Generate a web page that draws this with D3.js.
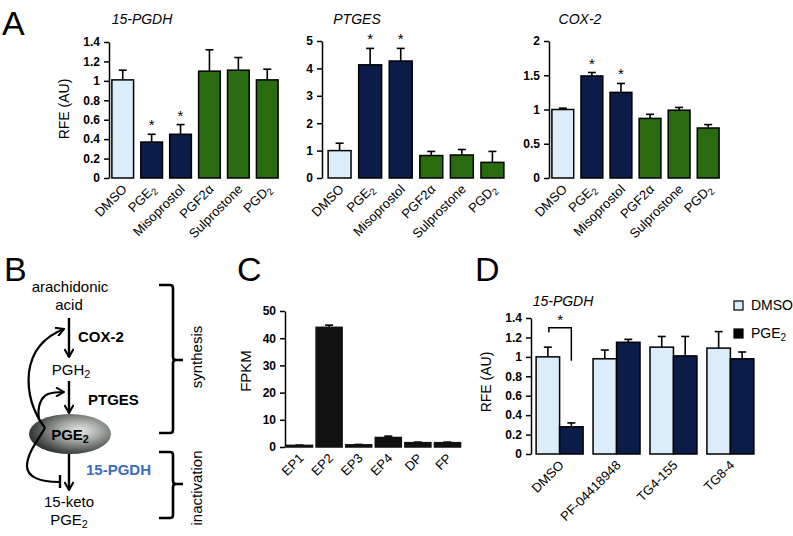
<!DOCTYPE html>
<html><head><meta charset="utf-8">
<script src="https://cdn.jsdelivr.net/npm/d3@7"></script>
<style>
body{margin:0;background:#fff}
text{font-family:"Liberation Sans",Arial,Helvetica,sans-serif;fill:#000}
</style>
</head><body>
<svg id="fig" width="793" height="536"></svg>
<script>
// ---------- DATA ----------
const treatments = ["DMSO","PGE2","Misoprostol","PGF2α","Sulprostone","PGD2"];
const treatmentClass = ["ctrl","ep","ep","other","other","other"];
const sigA = [false,true,true,false,false,false];

const pgdhVals  = [1.01,0.37,0.45,1.10,1.11,1.01];
const pgdhErr   = [0.10,0.08,0.10,0.22,0.13,0.11];
const pgdhTicks = [0,0.2,0.4,0.6,0.8,1,1.2,1.4];

const ptgesVals  = [1.00,4.13,4.27,0.82,0.84,0.57];
const ptgesErr   = [0.27,0.60,0.46,0.15,0.20,0.40];
const ptgesTicks = [0,1,2,3,4,5];

const cox2Vals  = [1.00,1.49,1.25,0.87,0.99,0.73];
const cox2Err   = [0.02,0.05,0.13,0.06,0.04,0.05];
const cox2Ticks = [0,0.5,1,1.5,2];

const receptors  = ["EP1","EP2","EP3","EP4","DP","FP"];
const fpkmVals   = [0.6,44.0,0.8,3.5,1.6,1.6];
const fpkmErr    = [0.1,0.8,0.15,0.5,0.2,0.2];
const fpkmTicks  = [0,10,20,30,40,50];

const inhibitors  = ["DMSO","PF-04418948","TG4-155","TG8-4"];
const conditions  = ["DMSO","PGE2"];
const dVehicle    = [1.00,0.98,1.10,1.09];
const dVehicleErr = [0.10,0.09,0.11,0.17];
const dPGE2       = [0.28,1.15,1.01,0.98];
const dPGE2Err    = [0.04,0.03,0.20,0.07];
const dTicks      = [0,0.2,0.4,0.6,0.8,1,1.2,1.4];

// ---------- STYLE ----------
const colors = {ctrl:"#dcedfa", ep:"#0c1c48", other:"#2b6b10", black:"#111"};
const svg = d3.select("#fig");

function labelText(sel, s){
  if(/^PG[A-Z]2$/.test(s)){
    sel.text(s.slice(0,-1));
    sel.append("tspan").attr("dy","0.3em").attr("font-size","0.72em").text("2");
  } else sel.text(s);
}

function rotLabel(g, x, y, s, size){
  const t = g.append("text").attr("text-anchor","end").attr("font-size",size)
    .attr("transform",`translate(${x},${y}) rotate(-45)`);
  labelText(t, s);
  return t;
}

function yAxis(g, y, ticks){
  g.call(d3.axisLeft(y).tickValues(ticks).tickSize(5).tickSizeOuter(0).tickPadding(4).tickFormat(d=>String(d)));
  g.select(".domain").attr("stroke","#000").attr("stroke-width",1.5);
  g.selectAll(".tick line").attr("stroke","#000").attr("stroke-width",1.5);
  g.selectAll(".tick text").attr("font-size",12).attr("font-weight","bold")
    .attr("font-family","'Liberation Sans',Arial,sans-serif").attr("fill","#000");
}

function errBar(g, cx, yBar, yTop, cap){
  g.append("line").attr("x1",cx).attr("x2",cx).attr("y1",yBar).attr("y2",yTop)
    .attr("stroke","#000").attr("stroke-width",1.6);
  g.append("line").attr("x1",cx-cap).attr("x2",cx+cap).attr("y1",yTop).attr("y2",yTop)
    .attr("stroke","#000").attr("stroke-width",1.6);
}

function barPanel(o){
  const g = svg.append("g");
  const x = d3.scaleBand().domain(o.cats).range(o.xRange).paddingInner(o.pi).paddingOuter(o.po);
  const y = d3.scaleLinear().domain([0, d3.max(o.ticks)]).range(o.yRange);
  const ax = g.append("g").attr("transform",`translate(${o.xRange[0]},0)`);
  yAxis(ax, y, o.ticks);
  o.cats.forEach((c,i)=>{
    const x0 = x(c), w = x.bandwidth(), cx = x0 + w/2;
    const fill = o.fill(i);
    const yTop = y(o.vals[i] + o.errs[i]);
    errBar(g, cx, y(o.vals[i]), yTop, o.cap);
    g.append("rect").attr("x",x0).attr("y",y(o.vals[i])).attr("width",w)
      .attr("height",y(0)-y(o.vals[i])).attr("fill",fill)
      .attr("stroke",o.stroke||"#000").attr("stroke-width",1.5);
    if(o.sig && o.sig[i]){
      g.append("text").attr("x",cx).attr("y",yTop-4).attr("text-anchor","middle")
        .attr("font-size",15).text("*");
    }
    rotLabel(g, cx+5, y(0)+12, c, o.labelSize||13);
  });
  if(o.title) g.append("text").attr("x",o.titleX).attr("y",24).attr("text-anchor","middle")
     .attr("font-size",14).attr("font-style","italic").text(o.title);
  if(o.ylabel) g.append("text").attr("transform",`translate(${o.ylabelX},${o.ylabelY}) rotate(-90)`)
     .attr("text-anchor","middle").attr("font-size",o.ylabelSize||14).text(o.ylabel);
  return {x,y};
}

// ---------- PANEL A ----------
const clsFill = i => colors[treatmentClass[i]];
barPanel({cats:treatments, vals:pgdhVals, errs:pgdhErr, ticks:pgdhTicks, xRange:[109,281], yRange:[178,42],
  pi:0.25, po:0.1, fill:clsFill, sig:sigA, cap:4, title:"15-PGDH", titleX:142, ylabel:"RFE (AU)", ylabelX:69, ylabelY:109});
barPanel({cats:treatments, vals:ptgesVals, errs:ptgesErr, ticks:ptgesTicks, xRange:[322,510], yRange:[178,41],
  pi:0.25, po:0.2, fill:clsFill, sig:sigA, cap:4, title:"PTGES", titleX:357});
barPanel({cats:treatments, vals:cox2Vals, errs:cox2Err, ticks:cox2Ticks, xRange:[549,722], yRange:[178,41],
  pi:0.25, po:0.1, fill:clsFill, sig:sigA, cap:4, title:"COX-2", titleX:580});

// ---------- PANEL C ----------
barPanel({cats:receptors, vals:fpkmVals, errs:fpkmErr, ticks:fpkmTicks, xRange:[285,462], yRange:[447,311],
  pi:0.12, po:0.05, fill:()=>colors.black, stroke:"#111", cap:4, ylabel:"FPKM", ylabelX:251, ylabelY:371, ylabelSize:15, labelSize:13});

// ---------- PANEL D ----------
(function(){
  const g = svg.append("g");
  const x0 = d3.scaleBand().domain(inhibitors).range([531,759]).paddingInner(0.175).paddingOuter(0.09);
  const x1 = d3.scaleBand().domain(conditions).range([0,x0.bandwidth()]);
  const y = d3.scaleLinear().domain([0,1.4]).range([454,318]);
  const ax = g.append("g").attr("transform","translate(531,0)");
  yAxis(ax, y, dTicks);
  const series = [{c:"DMSO", v:dVehicle, e:dVehicleErr, fill:colors.ctrl},
                  {c:"PGE2", v:dPGE2, e:dPGE2Err, fill:colors.ep}];
  inhibitors.forEach((inh,i)=>{
    series.forEach(s=>{
      const bx = x0(inh) + x1(s.c), w = x1.bandwidth();
      errBar(g, bx+w/2, y(s.v[i]), y(s.v[i]+s.e[i]), 4);
      g.append("rect").attr("x",bx).attr("y",y(s.v[i])).attr("width",w).attr("height",y(0)-y(s.v[i]))
        .attr("fill",s.fill).attr("stroke","#000").attr("stroke-width",1.5);
    });
    const cx = x0(inh) + x0.bandwidth()/2;
    rotLabel(g, cx+5, y(0)+12, inh, 13);
  });
  // significance bracket
  const lx = x0("DMSO") + x1("DMSO") + x1.bandwidth()/2 + 1;
  const rx = x0("DMSO") + x1("PGE2") + x1.bandwidth()/2;
  g.append("path").attr("d",`M${lx},${y(1.25)}V${y(1.30)}H${rx}V${y(0.96)}`)
    .attr("fill","none").attr("stroke","#000").attr("stroke-width",1.5);
  g.append("text").attr("x",(lx+rx)/2).attr("y",y(1.30)-3).attr("text-anchor","middle").attr("font-size",15).text("*");
  g.append("text").attr("x",563).attr("y",306).attr("text-anchor","middle").attr("font-size",14)
    .attr("font-style","italic").text("15-PGDH");
  g.append("text").attr("transform","translate(491,382) rotate(-90)").attr("text-anchor","middle")
    .attr("font-size",14).text("RFE (AU)");
  // legend
  series.forEach((s,i)=>{
    const ly = 301 + i*28;
    g.append("rect").attr("x",734).attr("y",ly).attr("width",9).attr("height",9)
      .attr("fill",s.fill === colors.ep ? "#000" : s.fill).attr("stroke","#000").attr("stroke-width",1.2);
    const t = g.append("text").attr("x",751).attr("y",ly+9).attr("font-size",14);
    labelText(t, s.c);
  });
})();

// ---------- PANEL B (pathway diagram) ----------
(function(){
  const g = svg.append("g");
  const defs = svg.append("defs");
  const grad = defs.append("radialGradient").attr("id","pgeGrad").attr("cx","62%").attr("cy","42%").attr("r","60%");
  grad.append("stop").attr("offset","0%").attr("stop-color","#e6e8e6");
  grad.append("stop").attr("offset","40%").attr("stop-color","#a9ada9");
  grad.append("stop").attr("offset","100%").attr("stop-color","#353a37");
  defs.append("marker").attr("id","chev").attr("viewBox","0 0 10 10").attr("refX",9).attr("refY",5)
    .attr("markerWidth",10).attr("markerHeight",10).attr("markerUnits","userSpaceOnUse").attr("orient","auto")
    .append("path").attr("d","M1,0.5 L9,5 L1,9.5").attr("fill","none").attr("stroke","#000").attr("stroke-width",2);

  const cx = 69;
  const txt = (x,y,s,opt={})=>{
    const t = g.append("text").attr("x",x).attr("y",y).attr("font-size",opt.size||15)
      .attr("text-anchor",opt.anchor||"middle").attr("font-weight",opt.bold?"bold":"normal");
    if(opt.color) t.style("fill",opt.color);
    labelText(t,s); return t;
  };
  const vArrow = (y1,y2)=> g.append("line").attr("x1",cx).attr("x2",cx).attr("y1",y1).attr("y2",y2)
      .attr("stroke","#000").attr("stroke-width",2.4).attr("marker-end","url(#chev)");

  txt(70,292,"arachidonic");
  txt(69,310,"acid");
  vArrow(318,357);
  txt(78,342,"COX-2",{anchor:"start",bold:true});
  txt(71,375,"PGH2");
  vArrow(381,413);
  txt(88,405,"PTGES",{anchor:"start",bold:true});
  g.append("ellipse").attr("cx",70).attr("cy",434).attr("rx",41).attr("ry",20).attr("fill","url(#pgeGrad)");
  txt(70,440,"PGE2",{bold:true});
  vArrow(454,490);
  txt(86,475,"15-PGDH",{anchor:"start",bold:true,color:"#3a6cc0"});
  txt(69,507,"15-keto");
  txt(69,525,"PGE2");

  // feedback curves
  const cs = {fill:"none",stroke:"#000","stroke-width":2.2};
  const p = d=>{const e=g.append("path").attr("d",d); Object.entries(cs).forEach(([k,v])=>e.attr(k,v)); return e;};
  p("M59,482 C40,482 27,477 27,466 C27,454 37,441 45,428");
  p("M45,428 C33,412 27,392 29,372 C32,350 46,336 64,329").attr("marker-end","url(#chev)");
  p("M39,420 C37,406 41,397 48,394 C54,392 58,392 64,392").attr("marker-end","url(#chev)");
  g.append("line").attr("x1",60).attr("x2",60).attr("y1",475).attr("y2",488).attr("stroke","#000").attr("stroke-width",2.4);

  // brackets
  const br = (top,bot,mid)=> g.append("path")
      .attr("d",`M159,${top} H170 Q173,${top} 173,${top+3} V${mid-3} Q173,${mid} 176,${mid} H183 M176,${mid} Q173,${mid} 173,${mid+3} V${bot-3} Q173,${bot} 170,${bot} H159`)
      .attr("fill","none").attr("stroke","#000").attr("stroke-width",2.6);
  br(285,433,360);
  br(452,518,484);
  g.append("text").attr("transform","translate(202,357) rotate(-90)").attr("text-anchor","middle").attr("font-size",15).text("synthesis");
  g.append("text").attr("transform","translate(202,488) rotate(-90)").attr("text-anchor","middle").attr("font-size",15).text("inactivation");
})();

// ---------- PANEL LETTERS ----------
[["A",2,35],["B",4,281],["C",237,281],["D",475,281]].forEach(([l,x,y])=>
  svg.append("text").attr("x",x).attr("y",y).attr("font-size",34).text(l));
</script>
</body></html>
